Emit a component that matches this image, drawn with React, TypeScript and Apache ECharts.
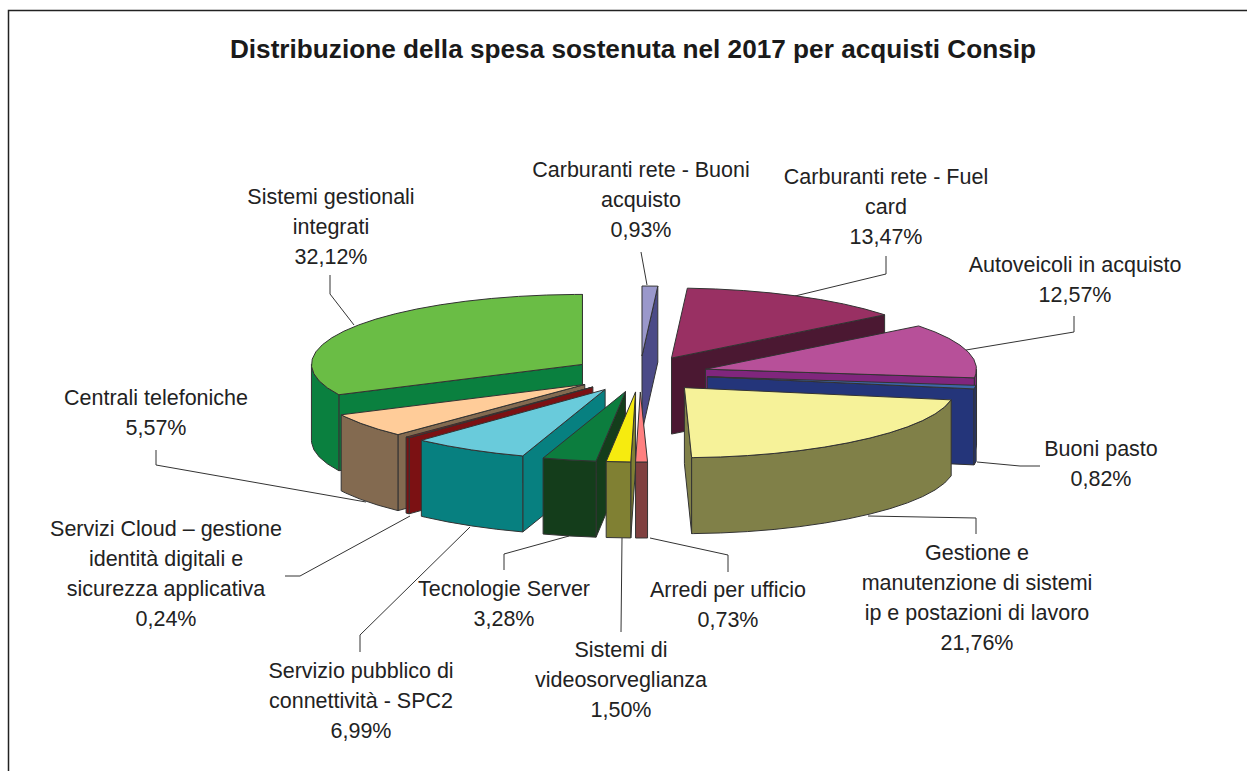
import React, { useEffect, useRef } from "react";
import * as echarts from "echarts";

const TITLE = "Distribuzione della spesa sostenuta nel 2017 per acquisti Consip";

// Clockwise from 12 o'clock
const categories = [
  "Carburanti rete - Buoni\nacquisto",
  "Carburanti rete - Fuel\ncard",
  "Autoveicoli in acquisto",
  "Buoni pasto",
  "Gestione e\nmanutenzione di sistemi\nip e postazioni di lavoro",
  "Arredi per ufficio",
  "Sistemi di\nvideosorveglianza",
  "Tecnologie Server",
  "Servizio pubblico di\nconnettività - SPC2",
  "Servizi Cloud – gestione\nidentità digitali e\nsicurezza applicativa",
  "Centrali telefoniche",
  "Sistemi gestionali\nintegrati",
];
const values = [0.93, 13.47, 12.57, 0.82, 21.76, 0.73, 1.5, 3.28, 6.99, 0.24, 5.57, 32.12];
const topColors = ["#9A98CB", "#993063", "#B75099", "#3D66A9", "#F6F299", "#FF8080", "#F6EB0F", "#0C7D3E", "#69CBDB", "#8B1A1A", "#FFCC99", "#6ABD45"];
const sideColors = ["#4B4A87", "#4B1832", "#80267D", "#24357A", "#808048", "#804040", "#808033", "#143D1B", "#078080", "#7B1113", "#836A50", "#0A803F"];

// Label anchors: centre x, vertical centre of first line
const labelAnchors: [number, number][] = [
  [641, 170], [886, 177], [1075, 265], [1101, 449], [977, 553], [728, 590],
  [621, 650], [504, 589], [361, 671], [166, 529], [156, 398], [331, 197],
];
// Leader lines
const leaders: number[][][] = [
  [[641, 252], [647, 285]],
  [[886, 256], [886, 274], [795, 296]],
  [[1074, 316], [1074, 332], [966, 350]],
  [[1040, 466], [1020, 466], [977, 462]],
  [[976, 534], [976, 518], [868, 516]],
  [[728, 572], [728, 555], [650, 538]],
  [[621, 632], [622, 538]],
  [[504, 570], [504, 554], [569, 536]],
  [[360, 652], [360, 635], [470, 527]],
  [[285, 576], [300, 576], [410, 516]],
  [[156, 450], [156, 465], [366, 502]],
  [[330, 275], [330, 294], [354, 325]],
];

const CX = 640, CY = 374, RX = 271, RY = 70, EX = 68, EY = 18, H = 76, STEP = 6, FRONT_SHRINK = 0.035;
const TITLE_FONT = 26.2, LABEL_FONT = 21.5, LINE_H = 30;
const FONT = "'Liberation Sans', Arial, sans-serif";
const rad = (d: number) => (d * Math.PI) / 180;

const total = values.reduce((a, b) => a + b, 0);
const startAngles: number[] = [];
values.reduce((acc, v, i) => { startAngles[i] = (acc / total) * 360; return acc + v; }, 0);
const endAngle = (i: number) => startAngles[i] + (values[i] / total) * 360;
const midAngle = (i: number) => (startAngles[i] + endAngle(i)) / 2;
const drawOrder = values.map((_, i) => i).sort((a, b) => -Math.cos(rad(midAngle(a))) + Math.cos(rad(midAngle(b))));

function renderSlice(_: any, api: any) {
  const i = api.value(0);
  const a0 = startAngles[i], a1 = endAngle(i), m = midAngle(i);
  const ax = CX + EX * Math.sin(rad(m));
  const ay = CY - EY * Math.cos(rad(m));
  const pt = (a: number, dy = 0) => {
    const c = Math.cos(rad(a));
    const rx = RX * (1 - FRONT_SHRINK * Math.pow(Math.max(0, -c), 3));
    return [ax + rx * Math.sin(rad(a)), ay - RY * c + dy];
  };
  const arc = (from: number, to: number, dy = 0) => {
    const out: number[][] = [];
    for (let a = from; a < to; a += STEP) out.push(pt(a, dy));
    out.push(pt(to, dy));
    return out;
  };
  const lineStyle = { stroke: "#333", lineWidth: 1, lineJoin: "round" };
  const poly = (points: number[][], fill: string) => ({ type: "polygon", shape: { points }, style: { fill, ...lineStyle } });
  const children: any[] = [];
  const side = sideColors[i];
  if (Math.sin(rad(a1)) > 0) children.push(poly([[ax, ay], pt(a1), pt(a1, H), [ax, ay + H]], side));
  if (Math.sin(rad(a0)) < 0) children.push(poly([[ax, ay], pt(a0), pt(a0, H), [ax, ay + H]], side));
  const f0 = Math.max(a0, 90), f1 = Math.min(a1, 270);
  if (f1 > f0) {
    const upper = arc(f0, f1);
    const lower = arc(f0, f1, H).reverse();
    children.push(poly([...upper, ...lower], side));
  }
  children.push(poly([[ax, ay], ...arc(a0, a1)], topColors[i]));
  return { type: "group", children };
}

export default function App() {
  const ref = useRef<HTMLDivElement>(null);
  useEffect(() => {
    if (!ref.current) return;
    const chart = echarts.init(ref.current, undefined, { renderer: "svg" });
    const graphics: any[] = [
      { type: "polyline", silent: true, shape: { points: [[8.5, 780], [8.5, 10.5], [1260, 10.5]] }, style: { stroke: "#222", lineWidth: 1.5, fill: "none" }, z: 1 },
    ];
    leaders.forEach((points) => {
      graphics.push({ type: "polyline", silent: true, shape: { points }, style: { stroke: "#333", lineWidth: 1, fill: "none" }, z: 1 });
    });
    categories.forEach((name, i) => {
      const [x, y] = labelAnchors[i];
      graphics.push({
        type: "text", silent: true, z: 5,
        style: {
          text: `${name}\n${values[i].toFixed(2).replace(".", ",")}%`,
          x, y: y - LINE_H / 2, align: "center", verticalAlign: "top",
          lineHeight: LINE_H, fontSize: LABEL_FONT, fontFamily: FONT, fill: "#222",
        },
      });
    });
    chart.setOption({
      animation: false,
      backgroundColor: "#fff",
      title: {
        text: TITLE, left: 628, top: 31, textAlign: "center",
        textStyle: { fontFamily: FONT, fontWeight: "bold", fontSize: TITLE_FONT, color: "#1a1a1a" },
      },
      graphic: { elements: graphics },
      series: [{
        type: "custom",
        coordinateSystem: "none",
        silent: true,
        renderItem: renderSlice,
        data: drawOrder.map((i) => [i, values[i]]),
        z: 3,
      }],
    });
    return () => chart.dispose();
  }, []);
  return <div ref={ref} style={{ position: "absolute", left: 0, top: 0, width: 1247, height: 771 }} />;
}
